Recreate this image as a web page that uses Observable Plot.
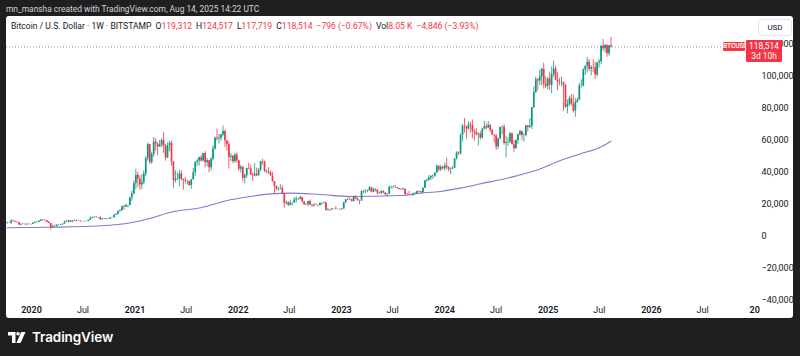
<!DOCTYPE html>
<html>
<head>
<meta charset="utf-8">
<script src="https://cdn.jsdelivr.net/npm/d3@7"></script>
<script src="https://cdn.jsdelivr.net/npm/@observablehq/plot@0.6"></script>
<style>
html,body{margin:0;padding:0;background:#1f1f1f;width:800px;height:356px;overflow:hidden;font-family:Roboto,"Noto Sans",sans-serif}
#top{position:absolute;left:6px;top:3px;color:#d1d4dc;font-size:8.4px;white-space:nowrap;line-height:12px}
#panel{position:absolute;left:6px;top:16px;width:787px;height:302px;background:#fff;border-radius:3px;overflow:hidden}
#panel svg{position:absolute;left:0;top:0}
#legend{position:absolute;left:5px;top:4px;font-size:8.6px;color:#131722;white-space:nowrap;line-height:12px}
#legend .r{color:#f23645}
#legend .g{margin-left:4px}
#usd{position:absolute;left:752px;top:3px;width:32px;height:15px;border:1px solid #e0e3eb;border-radius:3px;font-size:8px;line-height:15px;text-align:center;color:#131722;background:#fff}
.tag{position:absolute;background:#f23645;color:#fff;text-align:center;border-radius:1px}
#logo{position:absolute;left:8px;top:329px;height:16px;display:flex;align-items:center}
#logo span{color:#fff;font-family:Inter,Roboto,sans-serif;font-weight:600;font-size:13.5px;margin-left:6px;letter-spacing:-0.1px}
</style>
</head>
<body>
<div id="top">mn_mansha created with TradingView.com, Aug 14, 2025 14:22 UTC</div>
<div id="panel">
  <div id="legend"></div>
  <div id="usd">USD</div>
</div>
<div id="logo"><svg width="18" height="11" viewBox="0 0 18 11"><path d="M0 0H7.5V11H4V3.4H0Z" fill="#fff"/><circle cx="10" cy="1.8" r="1.8" fill="#fff"/><path d="M13.2 0H17.5L12.6 11H8.4Z" fill="#fff"/></svg><span>TradingView</span></div>
<script>
// ---------- data (weekly candles, BTC/USD Bitstamp, values in thousands USD) ----------
const weekStart = "2019-10-07";
const firstOpenK = 7.87;
const lastOpenK = 119.312;
const closeK = [
 8.30,8.22,9.55,9.20,8.80,8.50,6.95,7.40,7.50,7.10,7.50,7.30,7.35,
 8.15,8.70,8.60,9.30,10.15,9.90,9.65,8.55,8.00,5.35,5.85,5.90,6.80,6.90,7.15,7.70,8.90,8.75,9.65,8.70,9.45,9.65,9.35,9.30,9.00,9.10,9.25,9.20,9.95,11.05,11.70,11.90,11.65,11.70,10.30,10.70,11.08,10.75,10.67,11.38,11.50,13.12,13.80,15.50,15.95,18.40,18.20,19.15,19.25,24.00,26.50,33.00,
 38.20,35.80,32.10,33.50,38.90,48.60,57.40,46.20,51.20,59.00,57.50,55.80,57.10,60.00,56.20,49.00,56.60,58.20,46.50,34.70,35.60,35.80,39.00,35.50,34.70,34.20,34.30,31.80,35.40,39.80,46.30,47.10,49.30,47.10,51.80,46.00,47.30,42.80,48.20,54.60,61.50,60.90,61.30,63.30,65.50,59.70,57.20,49.40,50.10,46.70,50.80,47.30,
 41.90,43.10,36.30,37.90,42.40,42.20,38.40,37.70,38.80,37.80,41.30,46.80,46.40,40.40,40.40,39.50,37.70,34.30,31.30,29.40,29.45,29.90,26.60,20.50,21.00,19.30,20.80,20.80,22.60,23.30,23.20,24.30,21.50,19.60,19.80,21.80,19.40,18.80,19.40,19.40,19.20,20.60,20.60,21.00,16.30,16.70,16.50,17.10,17.10,16.80,16.80,16.60,
 17.10,20.90,22.70,23.00,22.90,21.80,24.60,23.50,22.20,22.00,28.00,27.90,28.20,28.30,30.30,27.60,29.30,28.90,26.90,26.80,28.10,27.10,26.00,26.30,30.50,30.60,30.30,30.30,29.90,29.30,29.10,29.40,26.10,26.00,25.90,25.80,26.50,26.60,28.00,27.90,27.20,30.00,34.50,35.00,36.50,37.40,37.50,39.50,43.80,41.40,43.00,42.30,
 43.90,42.80,41.60,42.00,42.60,48.30,52.10,51.70,63.10,68.90,68.40,67.20,69.60,69.30,65.60,64.90,63.40,63.80,61.50,66.90,68.50,67.70,69.30,66.20,63.20,62.70,55.80,60.80,68.10,68.20,58.10,58.70,59.00,64.20,57.30,54.80,59.90,63.60,65.60,63.00,63.00,69.00,68.00,68.80,80.40,89.80,97.90,97.20,99.90,104.50,95.20,93.70,98.40,
 94.50,101.30,104.70,97.70,96.50,96.10,96.30,94.30,80.70,82.60,86.10,82.30,78.40,83.70,85.20,94.00,94.00,104.10,106.40,109.00,104.60,105.70,105.50,101.00,108.40,109.20,119.00,117.30,119.40,114.20,119.30,118.514
];
const highK = [
 8.65,8.41,10.35,9.90,9.48,9.10,8.60,7.85,7.77,7.60,7.55,7.70,7.50,
 8.45,9.00,8.90,9.60,10.20,10.50,10.25,9.95,9.20,8.15,6.90,6.95,7.20,7.45,7.30,7.75,9.45,10.05,9.95,9.85,9.75,10.40,9.95,9.60,9.75,9.30,9.45,9.35,10.00,12.10,11.90,12.10,12.45,11.75,12.05,10.80,11.20,11.10,10.95,11.45,11.75,13.35,14.00,15.95,16.45,18.80,19.40,19.90,19.40,24.25,28.40,34.80,
 41.95,40.10,37.85,38.55,40.90,49.70,58.35,57.50,52.70,61.80,61.00,58.50,60.00,61.20,64.85,57.50,58.40,59.60,59.50,46.60,40.90,39.50,41.30,41.00,35.75,36.60,35.10,34.60,35.50,42.50,46.40,48.10,49.40,50.50,51.90,52.90,48.80,47.50,49.20,56.60,62.00,67.00,63.70,64.00,69.00,66.40,59.90,59.10,51.90,50.40,51.80,52.10,
 47.50,44.40,43.50,38.90,42.60,45.80,44.50,39.70,45.40,42.60,42.40,46.90,48.20,47.10,41.50,42.90,40.80,40.00,34.40,31.40,30.60,32.20,31.60,26.80,21.90,21.50,22.50,21.00,24.20,24.60,23.60,25.20,24.40,21.80,20.40,21.90,22.70,19.70,20.40,20.45,19.50,20.70,21.00,21.50,21.20,17.20,16.80,17.40,17.40,18.40,17.00,16.95,
 17.20,21.30,23.00,23.80,24.20,23.20,25.20,25.20,23.90,22.60,28.40,28.80,29.10,28.80,31.00,30.50,30.00,29.80,29.00,27.60,28.20,28.40,27.40,26.70,31.40,31.30,31.50,31.80,30.40,30.00,30.00,30.20,29.60,26.80,28.10,26.10,26.90,27.40,28.10,28.60,28.00,30.30,35.00,35.90,38.00,38.00,38.40,39.70,44.70,44.00,44.40,43.80,
 45.90,49.00,43.60,42.80,43.80,48.60,52.90,52.90,64.00,70.10,73.80,68.90,71.70,71.30,72.80,66.90,67.20,64.70,65.50,67.40,71.90,70.60,71.90,70.20,66.90,63.40,63.80,61.40,68.30,68.90,70.00,62.70,61.80,65.00,64.50,59.80,60.60,64.00,66.50,65.70,64.50,69.50,69.40,73.60,80.50,93.40,99.60,98.70,103.90,105.20,108.30,99.90,99.20,
 102.70,106.00,109.60,106.40,102.50,98.80,99.50,96.50,95.00,85.30,87.50,88.80,88.50,86.00,86.40,95.80,97.90,104.90,106.70,111.90,110.70,106.80,110.40,108.90,108.50,110.50,119.50,123.20,120.20,119.80,119.50,124.517
];
const lowK = [
 7.80,7.90,7.30,9.00,8.70,8.40,6.80,6.52,7.10,7.00,6.43,7.10,6.85,
 7.30,8.10,8.25,8.55,9.10,9.70,9.30,8.40,7.80,3.85,4.95,5.70,5.85,6.75,6.55,6.80,7.65,8.65,8.20,8.65,8.65,9.25,8.95,9.20,8.85,8.90,9.05,9.00,9.15,9.90,10.95,11.15,11.35,11.10,9.90,9.85,10.50,10.15,10.40,10.53,11.25,11.42,12.90,13.30,15.10,15.85,16.20,18.10,17.60,19.00,21.90,26.05,
 29.00,30.40,28.80,29.20,32.30,37.40,47.00,44.90,45.00,49.30,53.30,50.40,55.60,55.50,52.00,47.00,48.80,53.00,43.80,30.00,33.30,34.80,31.00,34.80,28.80,32.70,32.10,31.10,29.30,35.25,37.50,43.80,43.95,46.30,46.50,42.80,43.40,39.60,40.80,47.10,53.90,59.50,57.80,59.40,62.30,55.60,53.30,42.00,46.80,45.50,45.60,45.70,
 40.60,39.60,34.00,32.90,36.30,41.80,38.00,34.30,37.20,37.20,37.60,40.50,44.40,39.80,39.20,38.60,37.60,33.70,26.70,28.60,28.00,29.30,26.50,17.60,19.60,18.70,19.00,18.90,20.70,20.70,22.40,22.70,20.80,19.50,19.50,18.50,19.30,18.15,18.50,19.30,18.20,18.90,19.30,20.20,15.60,16.00,15.50,16.00,16.90,16.30,16.50,16.35,
 16.50,17.00,20.40,22.30,22.50,21.40,21.40,22.90,21.90,19.60,21.90,26.60,26.50,27.20,28.20,27.10,27.20,27.70,25.80,26.10,26.10,26.60,25.30,24.80,26.20,29.50,29.70,29.90,29.50,28.90,28.60,28.80,25.20,25.80,25.40,25.30,24.90,26.00,26.00,27.20,26.50,26.90,29.90,33.90,34.50,34.80,35.60,36.80,39.40,40.20,40.50,41.50,
 40.70,41.70,40.20,38.50,41.80,42.30,47.70,50.60,50.90,59.00,64.60,60.80,66.50,64.50,61.00,59.60,62.80,56.50,60.20,60.80,66.60,66.60,67.50,65.00,63.00,58.40,53.50,54.30,60.60,63.40,57.10,49.00,56.20,57.90,57.20,52.60,54.60,57.60,62.70,59.80,58.90,62.30,65.20,67.50,66.80,80.00,89.40,90.80,94.50,94.20,92.20,92.50,91.50,
 91.20,89.30,99.50,97.40,91.20,94.10,93.40,78.20,80.00,76.60,81.20,81.60,77.10,74.50,83.20,85.10,92.80,93.50,100.70,102.10,103.10,100.40,102.60,98.20,99.60,105.20,107.50,115.70,114.70,112.00,112.70,117.719
];
// moving average line (thousands USD)
const maDates = ["2019-10-07","2020-03-08","2020-09-01","2020-12-16","2021-02-25","2021-05-07","2021-08-21","2021-12-04","2022-02-14","2022-04-25","2022-07-04","2022-10-19","2023-02-02","2023-07-28","2023-10-07","2023-12-16","2024-02-25","2024-05-07","2024-08-20","2024-11-17","2025-02-14","2025-04-26","2025-07-04","2025-08-11"];
const maK = [5.3,5.6,6.5,8.4,11.3,15.0,17.8,22.8,24.9,26.5,27.0,26.1,24.9,25.5,26.9,28.0,30.1,32.8,36.8,41.1,47.4,51.6,55.7,59.5];
// axis ticks
const xTickDates = ["2020-01-01","2020-07-01","2021-01-01","2021-07-01","2022-01-01","2022-07-01","2023-01-01","2023-07-01","2024-01-01","2024-07-01","2025-01-01","2025-07-01","2026-01-01","2026-07-01","2027-01-01"];
const xTickLabels = ["2020","Jul","2021","Jul","2022","Jul","2023","Jul","2024","Jul","2025","Jul","2026","Jul","20"];
const yTicks = [-40000,-20000,0,20000,40000,60000,80000,100000,120000];
// legend texts
const symbolText = "Bitcoin / U.S. Dollar · 1W · BITSTAMP";
const ohlcLabels = ["O","H","L","C"];
const ohlcValues = ["119,312","124,517","117,719","118,514"];
const changeText = "−796 (−0.67%)";
const volValue = "8.05 K";
const volChange = "−4,846 (−3.93%)";
const countdown = "3d 10h";

// ---------- build rows ----------
const DAY = 864e5;
const t0 = Date.parse(weekStart);
const n = Math.min(closeK.length, highK.length, lowK.length);
const rows = [];
for (let i = 0; i < n; i++) {
  const open = (i === 0 ? firstOpenK : i === n - 1 ? lastOpenK : closeK[i - 1]) * 1000;
  const close = closeK[i] * 1000;
  rows.push({
    date: new Date(t0 + i * 7 * DAY),
    open, close,
    high: Math.max(highK[i] * 1000, open, close),
    low: Math.min(lowK[i] * 1000, open, close),
    dir: close >= open ? "up" : "down"
  });
}
const ma = maDates.map((d, i) => ({date: new Date(d), v: maK[i] * 1000}));
const last = rows[rows.length - 1];

// x scale calibrated to the reference (2020-01-01 at 25px, 103.3px per year, plot 750px wide)
const YEAR = 365.25 * DAY, ref = Date.UTC(2020, 0, 1), pxYear = 103.3;
const xDomain = [new Date(ref - 25 / pxYear * YEAR), new Date(ref + 725 / pxYear * YEAR)];
const labelMap = new Map(xTickDates.map((d, i) => [+new Date(d), xTickLabels[i]]));

const plot = Plot.plot({
  width: 787, height: 302,
  marginLeft: 0, marginRight: 37, marginTop: 0, marginBottom: 18,
  style: {fontFamily: "Roboto, 'Noto Sans', sans-serif", fontSize: "9px", color: "#131722", background: "transparent", overflow: "visible"},
  x: {type: "utc", domain: xDomain},
  y: {domain: [-40260, 137570]},
  color: {domain: ["up", "down"], range: ["#089981", "#f23645"]},
  marks: [
    Plot.ruleY([last.close], {stroke: "#9a8f93", strokeDasharray: "1,2", strokeWidth: 1}),
    Plot.line(ma, {x: "date", y: "v", stroke: "#8178d4", strokeWidth: 1.1, curve: "monotone-x"}),
    Plot.ruleX(rows, {x: "date", y1: "low", y2: "high", stroke: "dir", strokeWidth: 0.8}),
    Plot.ruleX(rows, {x: "date", y1: "open", y2: "close", stroke: "dir", strokeWidth: 1.7}),
    Plot.axisX({ticks: xTickDates.map(d => new Date(d)), tickFormat: d => labelMap.get(+d), tickSize: 0, tickPadding: 6, fontSize: 9}),
    Plot.axisY({anchor: "right", ticks: yTicks, tickFormat: d3.format(","), tickSize: 0, tickPadding: 5, fontSize: 9})
  ]
});
const panel = document.getElementById("panel");
panel.insertBefore(plot, panel.firstChild);

// bold year labels
d3.select(plot).selectAll("text").filter(function(){ return /^\d/.test(this.textContent) && this.textContent.length >= 2 && !this.textContent.includes(",") && this.textContent !== "0"; }).attr("font-weight", 600);

// legend
const lg = document.getElementById("legend");
let html = `<span>${symbolText}</span>`;
ohlcLabels.forEach((l, i) => { html += `<span class="g">${l}<span class="r">${ohlcValues[i]}</span></span>`; });
html += `<span class="g r">${changeText}</span><span class="g">Vol<span class="r">${volValue}</span></span><span class="g r">${volChange}</span>`;
lg.innerHTML = html;

// price tags positioned with the y scale
const yPx = plot.scale("y").apply(last.close);
const sym = document.createElement("div");
sym.className = "tag";
sym.style.cssText = `left:717px;top:${yPx - 4}px;width:22px;height:9px;font-size:6.8px;line-height:9px;font-weight:600;letter-spacing:-0.2px`;
sym.textContent = "BTCUSD";
panel.appendChild(sym);
const pt = document.createElement("div");
pt.className = "tag";
pt.style.cssText = `left:740px;top:${yPx - 6}px;width:36px;height:22px;font-size:8.4px;line-height:10.5px;padding-top:0.5px;box-sizing:border-box`;
pt.innerHTML = `<div>${d3.format(",")(last.close)}</div><div>${countdown}</div>`;
panel.appendChild(pt);
</script>
</body>
</html>
